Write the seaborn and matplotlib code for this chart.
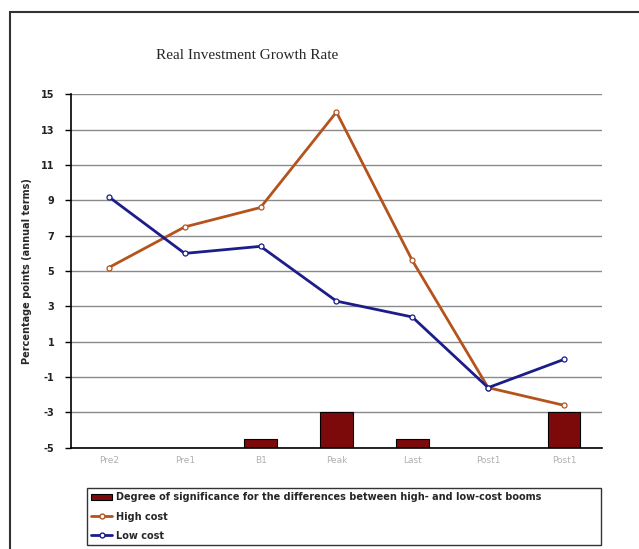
import numpy as np
import pandas as pd
import matplotlib
matplotlib.use("Agg")
import matplotlib.pyplot as plt
from matplotlib.patches import Rectangle
import seaborn as sns

# values
periods = ["Pre2", "Pre1", "B1", "Peak", "Last", "Post1", "Post1"]
high_cost = [5.2, 7.5, 8.6, 14.0, 5.6, -1.6, -2.6]
low_cost = [9.2, 6.0, 6.4, 3.3, 2.4, -1.6, 0.0]
significance_top = [-5.0, -5.0, -4.5, -3.0, -4.5, -5.0, -3.0]
y_ticks = list(range(-5, 16, 2))

HIGH_COLOR = "#b4531c"
LOW_COLOR = "#1c1c8a"
BAR_COLOR = "#7d0a0a"

sns.set_theme(style="white")
plt.rcParams["font.family"] = ["DejaVu Sans"]

fig = plt.figure(figsize=(6.39, 5.49), dpi=100)
ax = fig.add_axes([0.111, 0.1845, 0.831, 0.6435])

pos = np.arange(len(periods))
bars = pd.DataFrame({"pos": pos, "height": np.array(significance_top) + 5})
lines = pd.DataFrame({
    "pos": np.concatenate([pos, pos]),
    "value": high_cost + low_cost,
    "series": ["High cost"] * len(pos) + ["Low cost"] * len(pos),
})

# gridlines first so they sit under the bars
for t in y_ticks:
    ax.axhline(t, color="#8a8a8a", lw=1.0, zorder=0)

ax.bar(bars["pos"], bars["height"], bottom=-5, width=0.43,
       color=BAR_COLOR, edgecolor="black", linewidth=0.8, zorder=2)

sns.lineplot(data=lines, x="pos", y="value", hue="series",
             palette={"High cost": HIGH_COLOR, "Low cost": LOW_COLOR},
             marker="o", markersize=3.6, markerfacecolor="white",
             markeredgewidth=0.9, linewidth=2.0, ax=ax, zorder=3, legend=False)
for line, col in zip(ax.lines[-2:], [HIGH_COLOR, LOW_COLOR]):
    line.set_markeredgecolor(col)

ax.set_xlim(-0.5, len(periods) - 0.5)
ax.set_ylim(-5, 15)
ax.set_yticks(y_ticks)
ax.set_yticklabels([str(t) for t in y_ticks], fontsize=7, fontweight="bold", color="#222222")
ax.set_xticks(pos)
ax.set_xticklabels(periods, fontsize=6.5, color="#b0b0b0")
ax.set_xticks(np.arange(-0.5, len(periods), 1.0), minor=True)
ax.tick_params(axis="x", which="major", length=0, pad=6)
ax.tick_params(axis="x", which="minor", length=3, width=1, color="black", direction="out")
ax.tick_params(axis="y", length=4, width=1, color="black", direction="out", pad=8, left=True)
ax.set_xlabel("")
ax.set_ylabel("Percentage points (annual terms)", fontsize=7, fontweight="bold", labelpad=6)

for side in ["top", "right"]:
    ax.spines[side].set_visible(False)
for side in ["left", "bottom"]:
    ax.spines[side].set_color("black")
    ax.spines[side].set_linewidth(1.2)

fig.text(0.387, 0.898, "Real Investment Growth Rate", ha="center", va="center",
         fontsize=11, family="Liberation Serif")

# legend box at the bottom of the figure
handles = [
    Rectangle((0, 0), 1, 1, facecolor=BAR_COLOR, edgecolor="black", linewidth=0.8),
    plt.Line2D([], [], color=HIGH_COLOR, lw=2, marker="o", markersize=3.5,
               markerfacecolor="white", markeredgecolor=HIGH_COLOR),
    plt.Line2D([], [], color=LOW_COLOR, lw=2, marker="o", markersize=3.5,
               markerfacecolor="white", markeredgecolor=LOW_COLOR),
]
labels = ["Degree of significance for the differences between high- and low-cost booms",
          "High cost", "Low cost"]
leg = fig.legend(handles, labels, loc="upper left",
                 bbox_to_anchor=(0.128, 0.004, 0.82, 0.116), mode="expand",
                 fontsize=7, frameon=True, fancybox=False, borderpad=0.45,
                 labelspacing=0.95, handlelength=2.2, handletextpad=0.4)
leg.get_frame().set_edgecolor("black")
leg.get_frame().set_linewidth(1.0)
for txt in leg.get_texts():
    txt.set_fontweight("bold")

# outer chart frame (runs off the right and bottom edges)
fig.patches.append(Rectangle((0.0156, -0.2), 1.2, 0.978 + 0.2,
                             transform=fig.transFigure, fill=False,
                             edgecolor="#333333", linewidth=1.5))

fig.savefig("out.png", dpi=100)
